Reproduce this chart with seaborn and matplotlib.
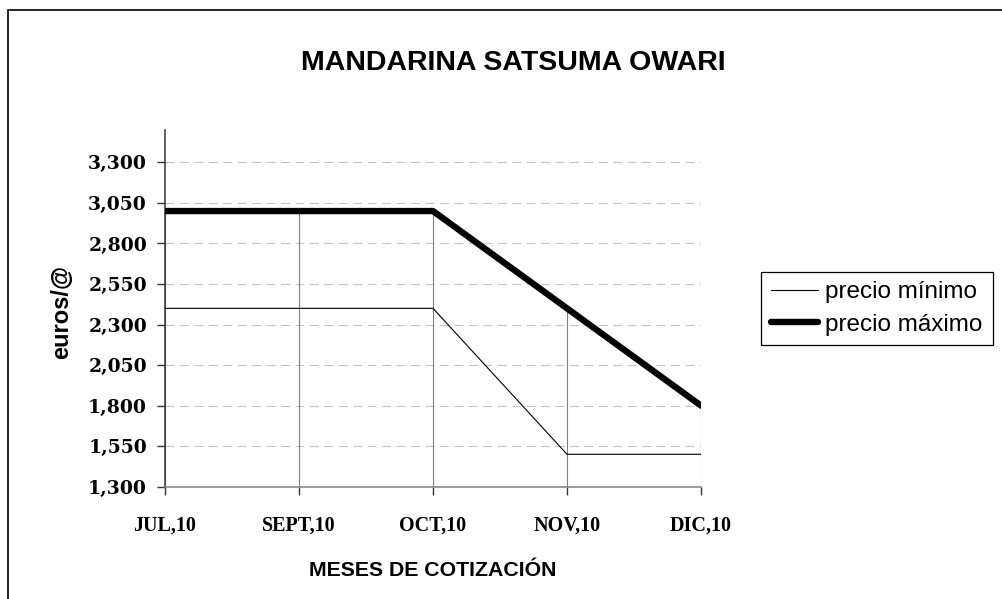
import numpy as np
import pandas as pd
import matplotlib
matplotlib.use('Agg')
import matplotlib.pyplot as plt
import matplotlib.patches as patches
import seaborn as sns

# Datos
meses = ['JUL,10', 'SEPT,10', 'OCT,10', 'NOV,10', 'DIC,10']
precio_minimo = [2.40, 2.40, 2.40, 1.50, 1.50]
precio_maximo = [3.00, 3.00, 3.00, 2.40, 1.80]
y_ticks = [1.30, 1.55, 1.80, 2.05, 2.30, 2.55, 2.80, 3.05, 3.30]

df = pd.DataFrame({'mes': meses, 'minimo': precio_minimo, 'maximo': precio_maximo})

sns.set_style('white')
plt.rcParams['font.family'] = ['Liberation Sans', 'DejaVu Sans']
plt.rcParams['text.color'] = 'black'
plt.rcParams['xtick.color'] = 'black'
plt.rcParams['ytick.color'] = 'black'
plt.rcParams['xtick.labelcolor'] = 'black'
plt.rcParams['ytick.labelcolor'] = 'black'

fig = plt.figure(figsize=(10.02, 5.99), dpi=100)
ax = fig.add_axes([165 / 1002, 1 - 486.7 / 599, 536 / 1002, 356.7 / 599])

# lineas de caida (gris) desde el maximo hasta el eje
ax.vlines(df['mes'], 1.30, df['maximo'], colors='#808080', linewidth=0.8, zorder=1)

sns.lineplot(data=df, x='mes', y='minimo', ax=ax, color='black', linewidth=0.8,
             sort=False, label='precio mínimo', zorder=3)
sns.lineplot(data=df, x='mes', y='maximo', ax=ax, color='black', linewidth=4.6,
             sort=False, label='precio máximo', zorder=4)

ax.set_xlim(0, len(meses) - 1)
ax.set_ylim(1.30, 3.50)
ax.set_yticks(y_ticks)
ax.set_yticklabels([f'{v:.3f}'.replace('.', ',') for v in y_ticks],
                   family='DejaVu Serif', fontweight='bold', fontsize=13.5)
ax.set_xticks(range(len(meses)))
ax.set_xticklabels(meses, family='Liberation Serif', fontweight='bold', fontsize=14.5)
ax.tick_params(axis='y', direction='out', length=6, width=1, color='#333333', pad=7, left=True)
ax.tick_params(axis='x', direction='out', length=6, width=1, color='#333333', pad=15, bottom=True)

ax.yaxis.grid(True, linestyle=(0, (8, 5)), color='#c4c4c4', linewidth=0.8)
ax.xaxis.grid(False)
ax.set_axisbelow(True)

for s in ['top', 'right']:
    ax.spines[s].set_visible(False)
ax.spines['left'].set_color('#333333')
ax.spines['left'].set_linewidth(1.1)
ax.spines['bottom'].set_color('#808080')
ax.spines['bottom'].set_linewidth(1.1)

ax.set_xlabel('')
ax.set_ylabel('')

fig.text(513.5 / 1002, 1 - 70.4 / 599, 'MANDARINA SATSUMA OWARI', ha='center', va='baseline',
         fontsize=20.5, fontweight='bold', color='black')
fig.text(433 / 1002, 1 - 576 / 599, 'MESES DE COTIZACIÓN', ha='center', va='baseline',
         fontsize=15.3, fontweight='bold', color='black')
fig.text(61.5 / 1002, 1 - 312 / 599, 'euros/@', ha='center', va='center', rotation=90,
         fontsize=17, fontweight='bold', color='black')

leg = ax.legend(loc='upper left', bbox_to_anchor=(761 / 1002, 1 - 271.7 / 599),
                bbox_transform=fig.transFigure, frameon=True, fancybox=False,
                edgecolor='black', framealpha=1, fontsize=17.5, handlelength=1.95,
                handletextpad=0.3, borderpad=0.4, labelspacing=0.42, borderaxespad=0)
leg.get_frame().set_linewidth(0.9)
for t in leg.get_texts():
    t.set_color('black')
for h in leg.get_lines():
    h.set_solid_capstyle('round')

# marco exterior
fig.patches.append(patches.Rectangle((8 / 1002, -0.1), 1.2, 1 - 10 / 599 + 0.1,
                                     transform=fig.transFigure, fill=False,
                                     edgecolor='black', linewidth=1.2))

fig.savefig('out.png', dpi=100)
